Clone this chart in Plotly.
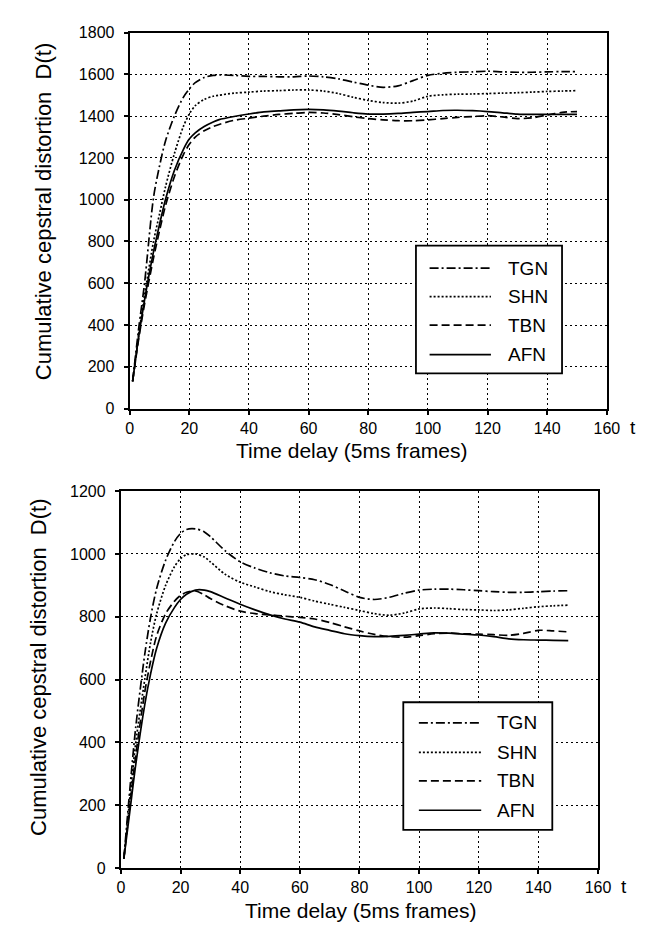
import plotly.graph_objects as go

# Time delay in 5 ms frames
t = [1, 3, 5, 8, 10, 12, 15, 18, 20, 22, 25, 28, 30, 35, 40, 45, 50, 55, 60,
     65, 70, 75, 80, 85, 90, 95, 100, 105, 110, 115, 120, 125, 130, 135, 140, 145, 150]

# Upper panel: cumulative cepstral distortion D(t)
tgn_a = [130, 380, 600, 1010, 1160, 1280, 1400, 1490, 1530, 1560, 1585, 1595, 1597, 1595, 1590,
         1590, 1588, 1588, 1592, 1588, 1578, 1563, 1548, 1538, 1545, 1570, 1595, 1605, 1610,
         1612, 1615, 1612, 1610, 1610, 1612, 1613, 1613]
shn_a = [130, 350, 540, 800, 930, 1060, 1220, 1350, 1410, 1450, 1480, 1495, 1500, 1510, 1515,
         1520, 1522, 1525, 1525, 1520, 1508, 1490, 1475, 1465, 1462, 1472, 1495, 1502, 1505,
         1506, 1508, 1510, 1512, 1515, 1518, 1520, 1522]
tbn_a = [130, 330, 500, 720, 850, 970, 1110, 1215, 1265, 1300, 1330, 1350, 1360, 1380, 1390,
         1400, 1408, 1413, 1418, 1415, 1407, 1397, 1388, 1382, 1378, 1378, 1382, 1388, 1394,
         1398, 1402, 1396, 1388, 1392, 1405, 1418, 1422]
afn_a = [130, 340, 520, 750, 880, 1000, 1140, 1240, 1290, 1320, 1350, 1372, 1383, 1398, 1410,
         1420, 1425, 1430, 1432, 1430, 1424, 1416, 1410, 1410, 1413, 1418, 1422, 1427, 1428,
         1426, 1422, 1416, 1410, 1408, 1408, 1408, 1408]

# Lower panel
tgn_b = [30, 250, 450, 680, 800, 890, 980, 1040, 1065, 1078, 1080, 1070, 1055, 1010, 975,
         955, 940, 930, 925, 918, 903, 882, 862, 855, 862, 875, 885, 888, 888, 886, 883,
         880, 878, 878, 880, 882, 883]
shn_b = [30, 220, 400, 600, 720, 810, 900, 960, 985, 998, 1000, 990, 975, 935, 910,
         895, 880, 870, 862, 850, 840, 830, 820, 810, 805, 812, 825, 828, 826, 823, 822,
         820, 822, 827, 832, 835, 837]
tbn_b = [30, 200, 360, 560, 660, 740, 810, 850, 868, 878, 882, 870, 858, 835, 818,
         810, 806, 802, 798, 793, 782, 768, 755, 744, 737, 735, 740, 746, 748, 746, 745,
         743, 741, 747, 757, 755, 752]
afn_b = [30, 180, 330, 520, 620, 700, 780, 830, 855, 872, 885, 885, 880, 860, 840,
         822, 806, 793, 783, 768, 757, 746, 740, 737, 738, 741, 745, 749, 748, 745, 742,
         737, 730, 727, 726, 725, 724]

series_names = ["TGN", "SHN", "TBN", "AFN"]
x_ticks = list(range(0, 161, 20))
y_ticks_a = list(range(0, 1801, 200))
y_ticks_b = list(range(0, 1201, 200))

W, H = 651, 941
FONT = "Liberation Sans, Arial, sans-serif"
dashes = {"TGN": "9px,3px,2px,3px", "SHN": "2px,2px", "TBN": "8px,4px", "AFN": "solid"}


def px(x):
    return x / W


def py(y):
    return 1 - y / H


fig = go.Figure()
panels = [
    ("x", "y", [tgn_a, shn_a, tbn_a, afn_a]),
    ("x2", "y2", [tgn_b, shn_b, tbn_b, afn_b]),
]
for xa, ya, vals in panels:
    for name, v in zip(series_names, vals):
        fig.add_trace(go.Scatter(
            x=t, y=v, mode="lines", name=name, xaxis=xa, yaxis=ya, showlegend=False,
            line=dict(color="black", width=1.7, dash=dashes[name], shape="spline", smoothing=0.8),
        ))

axis_common = dict(
    showline=True, linecolor="black", linewidth=2, mirror=True,
    showgrid=True, gridcolor="black", gridwidth=1.3, griddash="2px,3px",
    zeroline=False, ticks="outside", ticklen=4, tickcolor="black", tickwidth=1.5,
    tickfont=dict(family=FONT, size=16, color="black"),
)
x_common = dict(range=[0, 160], tickvals=x_ticks, **axis_common)
y_common = dict(ticklabelstandoff=6, **axis_common)

# panel boxes in pixels: (left, right, top, bottom)
box_a = (129, 619, 25, 408)
box_b = (120, 610, 492, 876)

fig.update_layout(
    width=W, height=H, margin=dict(l=0, r=0, t=0, b=0),
    paper_bgcolor="white", plot_bgcolor="white",
    xaxis=dict(domain=[px(box_a[0]), px(box_a[1])], anchor="y", **x_common),
    yaxis=dict(domain=[py(box_a[3]), py(box_a[2])], range=[0, 1800], tickvals=y_ticks_a,
               anchor="x", **y_common),
    xaxis2=dict(domain=[px(box_b[0]), px(box_b[1])], anchor="y2", **x_common),
    yaxis2=dict(domain=[py(box_b[3]), py(box_b[2])], range=[0, 1200], tickvals=y_ticks_b,
                anchor="x2", **y_common),
)

annotations = []
shapes = []
panel_layout = [
    # box, legend box, legend rows, sample x-span, text x, y-title x, y-title centre, x-title centre
    (box_a, (423, 573, 242, 372), [265, 294, 323, 353], (437, 500), 515, 40, 207, 357),
    (box_b, (410, 563, 707, 837), [728, 758, 787, 817], (426, 490), 504, 36, 672, 366),
]
for box, legend_box, rows, line_x, text_x, ylab_x, ylab_y, xlab_x in panel_layout:
    left, right, top, bottom = box
    annotations.append(dict(
        text="Time delay (5ms frames)", x=px(xlab_x), y=py(bottom + 43),
        xref="paper", yref="paper", showarrow=False, xanchor="center", yanchor="middle",
        font=dict(family=FONT, size=21, color="black")))
    annotations.append(dict(
        text="Cumulative cepstral distortion  D(t)", x=px(ylab_x), y=py(ylab_y),
        xref="paper", yref="paper", showarrow=False, textangle=-90,
        xanchor="center", yanchor="middle",
        font=dict(family=FONT, size=22, color="black")))
    annotations.append(dict(
        text="t", x=px(right + 27), y=py(bottom + 19), xref="paper", yref="paper",
        showarrow=False, xanchor="center", yanchor="middle",
        font=dict(family=FONT, size=19, color="black")))
    # legend box with line samples
    lx0, lx1, ly0, ly1 = legend_box
    shapes.append(dict(type="rect", xref="paper", yref="paper",
                       x0=px(lx0), x1=px(lx1), y0=py(ly1), y1=py(ly0),
                       line=dict(color="black", width=1.8), fillcolor="white", layer="above"))
    for name, ry in zip(series_names, rows):
        shapes.append(dict(type="line", xref="paper", yref="paper",
                           x0=px(line_x[0]), x1=px(line_x[1]), y0=py(ry), y1=py(ry),
                           line=dict(color="black", width=1.7, dash=dashes[name]),
                           layer="above"))
        annotations.append(dict(
            text=name, x=px(text_x), y=py(ry), xref="paper", yref="paper",
            showarrow=False, xanchor="left", yanchor="middle",
            font=dict(family=FONT, size=19, color="black")))

fig.update_layout(annotations=annotations, shapes=shapes)
fig.write_html("out.html")
